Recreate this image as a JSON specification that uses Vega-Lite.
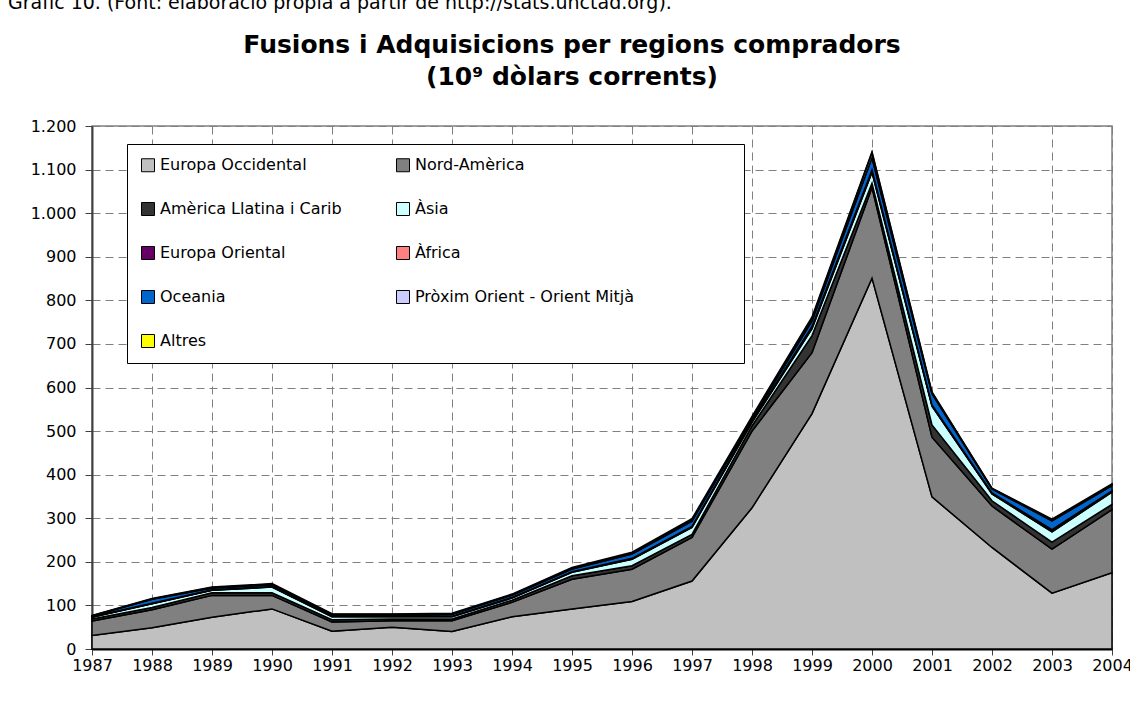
{
  "$schema": "https://vega.github.io/schema/vega-lite/v6.json",
  "background": "white",
  "autosize": {"type": "pad"},
  "padding": {"left": 8, "top": -6, "right": 0, "bottom": 0},
  "title": {
    "text": "Gràfic 10. (Font: elaboració pròpia a partir de http://stats.unctad.org).",
    "anchor": "start",
    "frame": "group",
    "dx": -84,
    "offset": 19,
    "font": "DejaVu Sans",
    "fontSize": 19,
    "fontWeight": "normal",
    "color": "black"
  },
  "datasets": {
    "regions": [
      {"regio": "Europa Occidental", "n": 1},
      {"regio": "Nord-Amèrica", "n": 2},
      {"regio": "Amèrica Llatina i Carib", "n": 3},
      {"regio": "Àsia", "n": 4},
      {"regio": "Europa Oriental", "n": 5},
      {"regio": "Àfrica", "n": 6},
      {"regio": "Oceania", "n": 7},
      {"regio": "Pròxim Orient - Orient Mitjà", "n": 8},
      {"regio": "Altres", "n": 9}
    ],
    "fa": [
      {"any": 1987, "Europa Occidental": 31, "Nord-Amèrica": 33, "Amèrica Llatina i Carib": 5, "Àsia": 4, "Europa Oriental": 0.5, "Àfrica": 0.3, "Oceania": 2, "Pròxim Orient - Orient Mitjà": 0.5, "Altres": 0.5},
      {"any": 1988, "Europa Occidental": 49, "Nord-Amèrica": 41, "Amèrica Llatina i Carib": 5, "Àsia": 9, "Europa Oriental": 0.5, "Àfrica": 0.5, "Oceania": 9, "Pròxim Orient - Orient Mitjà": 1, "Altres": 1},
      {"any": 1989, "Europa Occidental": 73, "Nord-Amèrica": 50, "Amèrica Llatina i Carib": 6, "Àsia": 6, "Europa Oriental": 0.5, "Àfrica": 0.5, "Oceania": 4, "Pròxim Orient - Orient Mitjà": 1, "Altres": 1},
      {"any": 1990, "Europa Occidental": 92, "Nord-Amèrica": 31, "Amèrica Llatina i Carib": 6, "Àsia": 13, "Europa Oriental": 1, "Àfrica": 0.5, "Oceania": 4, "Pròxim Orient - Orient Mitjà": 1, "Altres": 1.5},
      {"any": 1991, "Europa Occidental": 41, "Nord-Amèrica": 21, "Amèrica Llatina i Carib": 5, "Àsia": 7, "Europa Oriental": 1, "Àfrica": 0.5, "Oceania": 3, "Pròxim Orient - Orient Mitjà": 1, "Altres": 1.5},
      {"any": 1992, "Europa Occidental": 50, "Nord-Amèrica": 15, "Amèrica Llatina i Carib": 4, "Àsia": 5, "Europa Oriental": 1, "Àfrica": 0.5, "Oceania": 3, "Pròxim Orient - Orient Mitjà": 1, "Altres": 1},
      {"any": 1993, "Europa Occidental": 40, "Nord-Amèrica": 25, "Amèrica Llatina i Carib": 4, "Àsia": 5, "Europa Oriental": 1, "Àfrica": 0.5, "Oceania": 4, "Pròxim Orient - Orient Mitjà": 1, "Altres": 1.5},
      {"any": 1994, "Europa Occidental": 74, "Nord-Amèrica": 33, "Amèrica Llatina i Carib": 5, "Àsia": 5, "Europa Oriental": 1, "Àfrica": 0.5, "Oceania": 5, "Pròxim Orient - Orient Mitjà": 1, "Altres": 1.5},
      {"any": 1995, "Europa Occidental": 92, "Nord-Amèrica": 68, "Amèrica Llatina i Carib": 8, "Àsia": 8, "Europa Oriental": 1, "Àfrica": 0.5, "Oceania": 6, "Pròxim Orient - Orient Mitjà": 1.5, "Altres": 2},
      {"any": 1996, "Europa Occidental": 109, "Nord-Amèrica": 74, "Amèrica Llatina i Carib": 8, "Àsia": 15, "Europa Oriental": 1, "Àfrica": 1, "Oceania": 10, "Pròxim Orient - Orient Mitjà": 2, "Altres": 2},
      {"any": 1997, "Europa Occidental": 156, "Nord-Amèrica": 100, "Amèrica Llatina i Carib": 7, "Àsia": 16, "Europa Oriental": 1.5, "Àfrica": 1, "Oceania": 12, "Pròxim Orient - Orient Mitjà": 2.5, "Altres": 3},
      {"any": 1998, "Europa Occidental": 324, "Nord-Amèrica": 176, "Amèrica Llatina i Carib": 12, "Àsia": 8, "Europa Oriental": 2, "Àfrica": 1, "Oceania": 5, "Pròxim Orient - Orient Mitjà": 3, "Altres": 3},
      {"any": 1999, "Europa Occidental": 540, "Nord-Amèrica": 140, "Amèrica Llatina i Carib": 39, "Àsia": 16, "Europa Oriental": 3, "Àfrica": 2, "Oceania": 13, "Pròxim Orient - Orient Mitjà": 5, "Altres": 4},
      {"any": 2000, "Europa Occidental": 851, "Nord-Amèrica": 208, "Amèrica Llatina i Carib": 10, "Àsia": 25, "Europa Oriental": 3, "Àfrica": 2, "Oceania": 28, "Pròxim Orient - Orient Mitjà": 12, "Altres": 2},
      {"any": 2001, "Europa Occidental": 349, "Nord-Amèrica": 137, "Amèrica Llatina i Carib": 28, "Àsia": 43, "Europa Oriental": 2, "Àfrica": 1, "Oceania": 26, "Pròxim Orient - Orient Mitjà": 2, "Altres": 2},
      {"any": 2002, "Europa Occidental": 233, "Nord-Amèrica": 95, "Amèrica Llatina i Carib": 12, "Àsia": 16, "Europa Oriental": 1, "Àfrica": 1, "Oceania": 9, "Pròxim Orient - Orient Mitjà": 1, "Altres": 1},
      {"any": 2003, "Europa Occidental": 128, "Nord-Amèrica": 101, "Amèrica Llatina i Carib": 16, "Àsia": 24, "Europa Oriental": 4, "Àfrica": 1, "Oceania": 20, "Pròxim Orient - Orient Mitjà": 2, "Altres": 2},
      {"any": 2004, "Europa Occidental": 175, "Nord-Amèrica": 145, "Amèrica Llatina i Carib": 12, "Àsia": 28, "Europa Oriental": 2, "Àfrica": 1, "Oceania": 12, "Pròxim Orient - Orient Mitjà": 2, "Altres": 2}
    ]
  },
  "vconcat": [
    {
      "width": 1020,
      "height": 523,
      "title": {
        "text": ["Fusions i Adquisicions per regions compradors", "(10⁹ dòlars corrents)"],
        "anchor": "middle",
        "frame": "group",
        "dx": -30,
        "offset": 28,
        "font": "DejaVu Sans",
        "fontSize": 25,
        "fontWeight": "bold",
        "lineHeight": 32,
        "color": "black"
      },
      "data": {"name": "fa"},
      "transform": [
        {"fold": ["Europa Occidental", "Nord-Amèrica", "Amèrica Llatina i Carib", "Àsia", "Europa Oriental", "Àfrica", "Oceania", "Pròxim Orient - Orient Mitjà", "Altres"], "as": ["regio", "v"]},
        {"lookup": "regio", "from": {"data": {"name": "regions"}, "key": "regio", "fields": ["n"]}}
      ],
      "mark": {"type": "area", "stroke": "black", "strokeWidth": 1.5, "opacity": 1, "fillOpacity": 1, "interpolate": "linear"},
      "encoding": {
        "x": {
          "field": "any", "type": "quantitative",
          "scale": {"domain": [1987, 2004], "nice": false, "zero": false},
          "axis": {
            "title": null,
            "values": [1987, 1988, 1989, 1990, 1991, 1992, 1993, 1994, 1995, 1996, 1997, 1998, 1999, 2000, 2001, 2002, 2003, 2004],
            "format": "d",
            "grid": true,
            "gridDash": [8, 5],
            "gridColor": "#808080",
            "gridWidth": 1,
            "domainColor": "black",
            "domainWidth": 2,
            "tickColor": "#404040",
            "tickSize": 6,
            "tickWidth": 1,
            "labelPadding": 2,
            "labelFont": "DejaVu Sans",
            "labelFontSize": 16,
            "labelColor": "black",
            "labelFlush": false,
            "labelOverlap": false
          }
        },
        "y": {
          "field": "v", "type": "quantitative", "stack": "zero",
          "scale": {"domain": [0, 1200], "nice": false},
          "axis": {
            "title": null,
            "values": [0, 100, 200, 300, 400, 500, 600, 700, 800, 900, 1000, 1100, 1200],
            "labelExpr": "replace(format(datum.value, ',d'), ',', '.')",
            "grid": true,
            "gridDash": [8, 5],
            "gridColor": "#808080",
            "gridWidth": 1,
            "domainColor": "#404040",
            "domainWidth": 2,
            "tickColor": "#404040",
            "tickSize": 7,
            "tickWidth": 1,
            "labelPadding": 9,
            "labelFont": "DejaVu Sans",
            "labelFontSize": 16,
            "labelColor": "black",
            "labelOverlap": false
          }
        },
        "color": {
          "field": "regio", "type": "nominal",
          "scale": {
            "domain": ["Europa Occidental", "Nord-Amèrica", "Amèrica Llatina i Carib", "Àsia", "Europa Oriental", "Àfrica", "Oceania", "Pròxim Orient - Orient Mitjà", "Altres"],
            "range": ["#C0C0C0", "#808080", "#333333", "#CCFFFF", "#660066", "#FF8080", "#0066CC", "#CCCCFF", "#FFFF00"]
          },
          "legend": {
            "title": " ",
            "titleOrient": "right",
            "titlePadding": 97,
            "titleFontSize": 16,
            "orient": "none",
            "legendX": 35,
            "legendY": 18,
            "columns": 2,
            "direction": "horizontal",
            "columnPadding": 52,
            "rowPadding": 26,
            "padding": 13,
            "strokeColor": "black",
            "fillColor": "white",
            "symbolType": "square",
            "symbolSize": 169,
            "symbolStrokeColor": "black",
            "symbolStrokeWidth": 1,
            "symbolOpacity": 1,
            "labelFont": "DejaVu Sans",
            "labelFontSize": 16,
            "labelColor": "black",
            "labelOffset": 4,
            "labelLimit": 400
          }
        },
        "order": {"field": "n", "type": "quantitative", "sort": "ascending"}
      }
    }
  ],
  "config": {
    "font": "DejaVu Sans",
    "view": {"stroke": "#808080", "strokeWidth": 1.5}
  }
}
